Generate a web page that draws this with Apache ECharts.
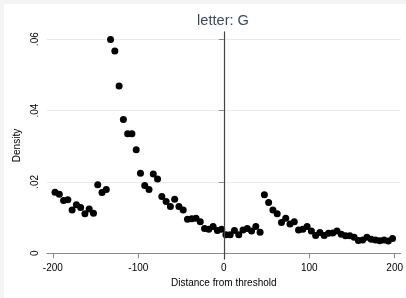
<!DOCTYPE html>
<html>
<head>
<meta charset="utf-8">
<script src="https://cdn.jsdelivr.net/npm/echarts@6/dist/echarts.min.js"></script>
<style>
html,body{margin:0;padding:0;background:#f4f4f4;width:406px;height:298px;overflow:hidden;}
#c{position:absolute;left:4px;top:4px;width:402px;height:294px;background:#fff;}
</style>
</head>
<body>
<div id="c"></div>
<script>
const titleText = "letter: G";
const xName = "Distance from threshold";
const yName = "Density";
const xTicks = [-200, -100, 0, 100, 200];
const yTicks = [0, 0.02, 0.04, 0.06];
const yTickLabels = ["0", ".02", ".04", ".06"];
const binCenters = [
  -197.5,-192.5,-187.5,-182.5,-177.5,-172.5,-167.5,-162.5,-157.5,-152.5,
  -147.5,-142.5,-137.5,-132.5,-127.5,-122.5,-117.5,-112.5,-107.5,-102.5,
  -97.5,-92.5,-87.5,-82.5,-77.5,-72.5,-67.5,-62.5,-57.5,-52.5,
  -47.5,-42.5,-37.5,-32.5,-27.5,-22.5,-17.5,-12.5,-7.5,-2.5,
  2.5,7.5,12.5,17.5,22.5,27.5,32.5,37.5,42.5,47.5,
  52.5,57.5,62.5,67.5,72.5,77.5,82.5,87.5,92.5,97.5,
  102.5,107.5,112.5,117.5,122.5,127.5,132.5,137.5,142.5,147.5,
  152.5,157.5,162.5,167.5,172.5,177.5,182.5,187.5,192.5,197.5
];
const density = [
  0.0171,0.0165,0.0148,0.0150,0.0121,0.0136,0.0128,0.0111,0.0124,0.0112,
  0.0192,0.0170,0.0179,0.0599,0.0567,0.0469,0.0375,0.0335,0.0335,0.0290,
  0.0224,0.0190,0.0179,0.0222,0.0208,0.0159,0.0145,0.0131,0.0151,0.0131,
  0.0121,0.0095,0.0097,0.0098,0.0088,0.0069,0.0067,0.0075,0.0064,0.0067,
  0.0052,0.0052,0.0064,0.0052,0.0065,0.0069,0.0062,0.0075,0.0059,0.0164,
  0.0142,0.0121,0.0111,0.0086,0.0098,0.0082,0.0088,0.0065,0.0067,0.0075,
  0.0062,0.0050,0.0058,0.0050,0.0056,0.0057,0.0062,0.0053,0.0049,0.0049,
  0.0045,0.0036,0.0037,0.0045,0.0039,0.0037,0.0035,0.0037,0.0034,0.0041
];
const threshold = 0;

const points = binCenters.map((x, i) => [x, density[i]]);
const font = "'Liberation Sans', Arial, sans-serif";

const chart = echarts.init(document.getElementById('c'), null, {renderer: 'canvas'});
chart.setOption({
  animation: false,
  backgroundColor: '#ffffff',
  title: {
    text: titleText,
    left: 219,
    top: 9,
    textAlign: 'center',
    padding: 0,
    textStyle: {fontFamily: font, fontSize: 14.6, fontWeight: 'normal', color: '#3b4b60'}
  },
  grid: {left: 41, right: 4, top: 27.7, bottom: 38.7, containLabel: false},
  xAxis: {
    type: 'value',
    min: -207, max: 207,
    name: xName,
    nameLocation: 'middle',
    nameGap: 17,
    nameTextStyle: {fontFamily: font, fontSize: 10, color: '#000'},
    axisLine: {show: true, lineStyle: {color: '#8a8a8a', width: 1}},
    axisTick: {show: true, length: 5, lineStyle: {color: '#8a8a8a'}, customValues: xTicks},
    axisLabel: {fontFamily: font, fontSize: 10, color: '#000', margin: 4, customValues: xTicks, formatter: v => String(v)},
    splitLine: {show: false}
  },
  yAxis: {
    type: 'value',
    min: -0.0017, max: 0.0621,
    name: yName,
    nameLocation: 'middle',
    nameRotate: 90,
    nameGap: 18,
    nameTextStyle: {fontFamily: font, fontSize: 10, color: '#000'},
    axisLine: {show: true, lineStyle: {color: '#8a8a8a', width: 1}},
    axisTick: {show: true, length: 5, lineStyle: {color: '#8a8a8a'}, customValues: yTicks},
    axisLabel: {
      fontFamily: font, fontSize: 10, color: '#000', margin: 7, rotate: 90,
      customValues: yTicks,
      formatter: v => { const i = yTicks.findIndex(t => Math.abs(t - v) < 1e-9); return i >= 0 ? yTickLabels[i] : ''; }
    },
    splitLine: {show: true, lineStyle: {color: '#e3edf0', width: 1}}
  },
  series: [{
    type: 'scatter',
    data: points,
    symbol: 'circle',
    symbolSize: 7,
    itemStyle: {color: '#000', opacity: 1},
    markLine: {
      silent: true,
      symbol: 'none',
      label: {show: false},
      lineStyle: {color: '#444444', width: 1.2, type: 'solid', opacity: 1},
      data: [{xAxis: threshold}]
    }
  }]
});
</script>
</body>
</html>
